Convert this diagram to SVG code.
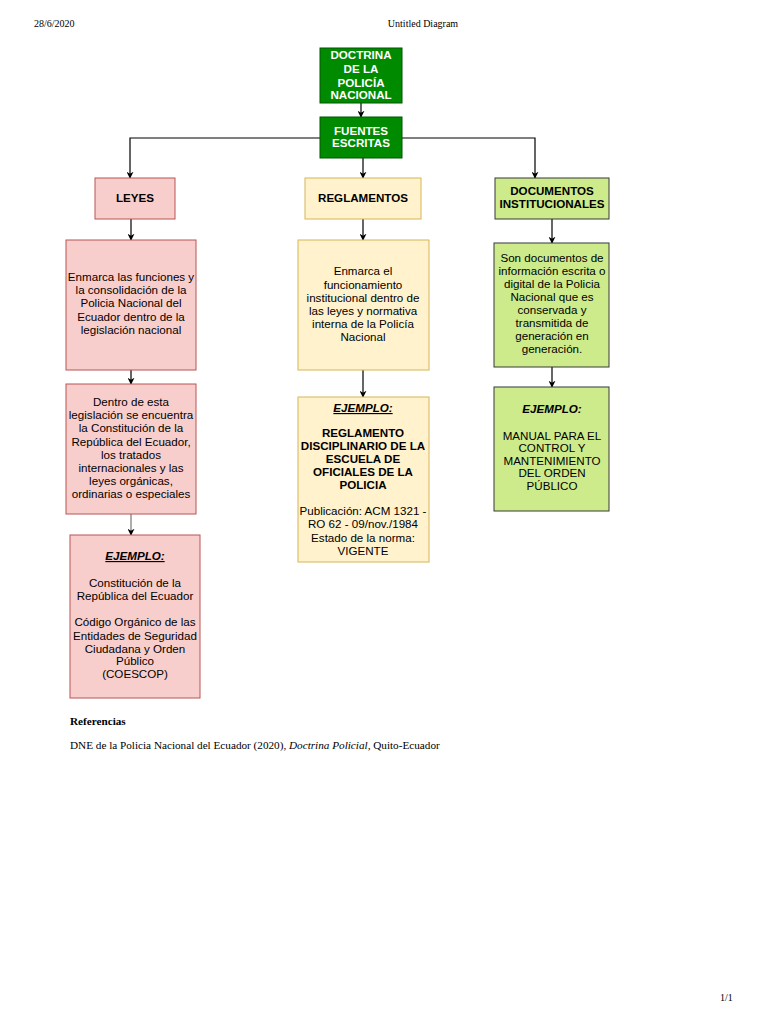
<svg xmlns="http://www.w3.org/2000/svg" width="768" height="1024" viewBox="0 0 768 1024">
<style>
.hdr{font-family:"Liberation Serif",serif;font-size:10px;fill:#000}
.ref{font-family:"Liberation Serif",serif;font-size:11.2px;fill:#000}
.t{font-family:"Liberation Sans",Arial,sans-serif;font-size:11.6px;fill:#000;text-anchor:middle}
.b{font-weight:bold}
.w{fill:#fff;font-weight:bold}
.g{fill:#008a00;stroke:#005700;stroke-width:1}
.r{fill:#f8cecc;stroke:#b85450;stroke-width:1}
.y{fill:#fff2cc;stroke:#d6b656;stroke-width:1}
.l{fill:#cdeb8b;stroke:#36393d;stroke-width:1}
.c{fill:none;stroke:#000;stroke-width:1.2}
.u{text-decoration:underline;font-style:italic;font-weight:bold}
</style>
<defs>
<marker id="a" viewBox="0 0 10 10" refX="9" refY="5" markerWidth="7" markerHeight="7" markerUnits="userSpaceOnUse" orient="auto">
<path d="M0,0 L10,5 L0,10 L3,5 Z" fill="#000"/>
</marker>
</defs>
<rect width="768" height="1024" fill="#fff"/>
<text class="hdr" x="34" y="27">28/6/2020</text>
<text class="hdr" x="423" y="27" text-anchor="middle">Untitled Diagram</text>
<text class="hdr" x="720" y="1001">1/1</text>

<g id="connectors">
<path class="c" d="M361,103 V117" marker-end="url(#a)"/>
<path class="c" d="M320,138 H130 V178" marker-end="url(#a)"/>
<path class="c" d="M402,138 H535 V178" marker-end="url(#a)"/>
<path class="c" d="M363,158 V178" marker-end="url(#a)"/>
<path class="c" d="M131,219 V240" marker-end="url(#a)"/>
<path class="c" d="M363,219 V240" marker-end="url(#a)"/>
<path class="c" d="M552,219 V243" marker-end="url(#a)"/>
<path class="c" d="M131,370 V384" marker-end="url(#a)"/>
<path class="c" d="M363,370 V397" marker-end="url(#a)"/>
<path class="c" d="M552,367 V387" marker-end="url(#a)"/>
<path class="c" d="M131,514 V535" marker-end="url(#a)" style="stroke:#777"/>
</g>

<g id="doctrina">
<rect class="g" x="320" y="48" width="82" height="55"/>
<text class="t w"><tspan x="361" y="59">DOCTRINA</tspan><tspan x="361" y="73">DE LA</tspan><tspan x="361" y="87">POLICÍA</tspan><tspan x="361" y="99">NACIONAL</tspan></text>
</g>
<g id="fuentes">
<rect class="g" x="320" y="117" width="82" height="41"/>
<text class="t w"><tspan x="361" y="135">FUENTES</tspan><tspan x="361" y="147">ESCRITAS</tspan></text>
</g>
<g id="leyes">
<rect class="r" x="95" y="178" width="80" height="41"/>
<text class="t b" x="135" y="202">LEYES</text>
</g>
<g id="reglamentos">
<rect class="y" x="305" y="178" width="116" height="41"/>
<text class="t b" x="363" y="202">REGLAMENTOS</text>
</g>
<g id="documentos">
<rect class="l" x="495" y="178" width="114" height="41"/>
<text class="t b"><tspan x="552" y="195">DOCUMENTOS</tspan><tspan x="552" y="208">INSTITUCIONALES</tspan></text>
</g>
<g id="leyes-desc">
<rect class="r" x="66" y="240" width="130" height="130"/>
<text class="t"><tspan x="131" y="281">Enmarca las funciones y</tspan><tspan x="131" y="294">la consolidación de la</tspan><tspan x="131" y="307">Policia Nacional del</tspan><tspan x="131" y="321">Ecuador dentro de la</tspan><tspan x="131" y="334">legislación nacional</tspan></text>
</g>
<g id="reglamentos-desc">
<rect class="y" x="298" y="240" width="131" height="130"/>
<text class="t"><tspan x="363" y="275">Enmarca el</tspan><tspan x="363" y="289">funcionamiento</tspan><tspan x="363" y="302">institucional dentro de</tspan><tspan x="363" y="315">las leyes y normativa</tspan><tspan x="363" y="328">interna de la Policía</tspan><tspan x="363" y="341">Nacional</tspan></text>
</g>
<g id="documentos-desc">
<rect class="l" x="494" y="243" width="115" height="124"/>
<text class="t"><tspan x="552" y="262">Son documentos de</tspan><tspan x="552" y="275">información escrita o</tspan><tspan x="552" y="288">digital de la Policia</tspan><tspan x="552" y="301">Nacional que es</tspan><tspan x="552" y="314">conservada y</tspan><tspan x="552" y="327">transmitida de</tspan><tspan x="552" y="340">generación en</tspan><tspan x="552" y="353">generación.</tspan></text>
</g>
<g id="leyes-legislacion">
<rect class="r" x="66" y="384" width="130" height="130"/>
<text class="t"><tspan x="131" y="406">Dentro de esta</tspan><tspan x="131" y="419">legislación se encuentra</tspan><tspan x="131" y="432">la Constitución de la</tspan><tspan x="131" y="446">República del Ecuador,</tspan><tspan x="131" y="459">los tratados</tspan><tspan x="131" y="472">internacionales y las</tspan><tspan x="131" y="485">leyes orgánicas,</tspan><tspan x="131" y="498">ordinarias o especiales</tspan></text>
</g>
<g id="reglamentos-ejemplo">
<rect class="y" x="298" y="397" width="131" height="165"/>
<text class="t"><tspan class="u" x="363" y="412">EJEMPLO:</tspan><tspan class="b" x="363" y="437">REGLAMENTO</tspan><tspan class="b" x="363" y="450">DISCIPLINARIO DE LA</tspan><tspan class="b" x="363" y="463">ESCUELA DE</tspan><tspan class="b" x="363" y="476">OFICIALES DE LA</tspan><tspan class="b" x="363" y="489">POLICIA</tspan><tspan x="363" y="515">Publicación: ACM 1321 -</tspan><tspan x="363" y="528">RO 62 - 09/nov./1984</tspan><tspan x="363" y="542">Estado de la norma:</tspan><tspan x="363" y="555">VIGENTE</tspan></text>
</g>
<g id="documentos-ejemplo">
<rect class="l" x="494" y="387" width="115" height="124"/>
<text class="t"><tspan x="552" y="413" style="font-weight:bold;font-style:italic">EJEMPLO:</tspan><tspan x="552" y="440">MANUAL PARA EL</tspan><tspan x="552" y="452">CONTROL Y</tspan><tspan x="552" y="465">MANTENIMIENTO</tspan><tspan x="552" y="477">DEL ORDEN</tspan><tspan x="552" y="490">PÚBLICO</tspan></text>
</g>
<g id="leyes-ejemplo">
<rect class="r" x="70" y="535" width="130" height="163"/>
<text class="t"><tspan class="u" x="135" y="560">EJEMPLO:</tspan><tspan x="135" y="587">Constitución de la</tspan><tspan x="135" y="600">República del Ecuador</tspan><tspan x="135" y="626">Código Orgánico de las</tspan><tspan x="135" y="640">Entidades de Seguridad</tspan><tspan x="135" y="653">Ciudadana y Orden</tspan><tspan x="135" y="665">Público</tspan><tspan x="135" y="678">(COESCOP)</tspan></text>
</g>
<text class="ref" x="70" y="725" font-weight="bold">Referencias</text>
<text class="ref" x="70" y="749">DNE de la Policia Nacional del Ecuador (2020), <tspan font-style="italic">Doctrina Policial,</tspan> Quito-Ecuador</text>
</svg>
